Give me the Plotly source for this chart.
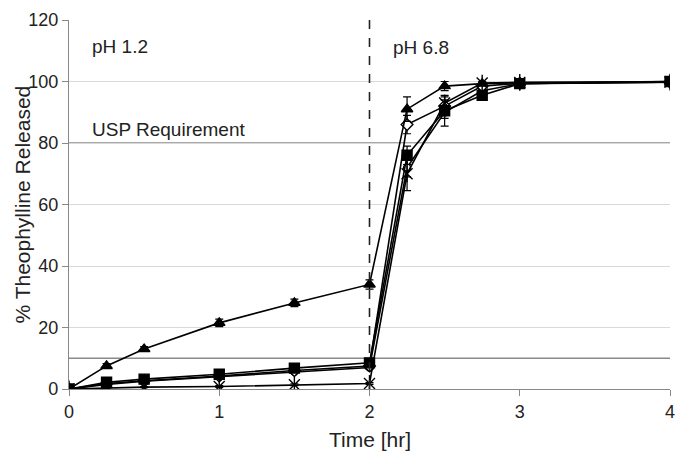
import plotly.graph_objects as go

time_hr = [0, 0.25, 0.5, 1, 1.5, 2, 2.25, 2.5, 2.75, 3, 4]

tri_vals = [0, 7.5, 13, 21.5, 28, 34, 91, 98.5, 99.3, 99.6, 100]
tri_err = [0, 0.8, 0.8, 1.2, 1.2, 1.5, 4, 1.5, 0.5, 0.5, 0.5]

dia_vals = [0, 1.8, 2.7, 4.2, 6, 7.5, 86, 92, 98.5, 99.4, 99.8]
dia_err = [0, 0.3, 0.3, 0.5, 0.8, 0.8, 3, 2, 1, 0.5, 0.5]

sq_vals = [0, 2.2, 3.2, 4.8, 6.8, 8.5, 76, 90.5, 95.5, 99.3, 100]
sq_err = [0, 0.5, 0.5, 0.5, 0.6, 0.6, 3, 5, 1, 0.5, 0.5]

circ_vals = [0, 1.5, 2.5, 4, 5.6, 7, 72, 90, 97, 99.3, 99.8]
circ_err = [0, 0.3, 0.3, 0.4, 0.5, 0.6, 3, 2, 1, 0.5, 0.5]

star_vals = [0, 0.4, 0.6, 0.8, 1.4, 1.8, 70, 93, 99.5, 99.7, 99.8]
star_err = [0, 0.2, 0.2, 0.3, 0.3, 0.3, 5.5, 2, 0.5, 0.5, 0.5]

y_ticks = [0, 20, 40, 60, 80, 100, 120]
x_ticks = [0, 1, 2, 3, 4]

fig = go.Figure()

def add_series(vals, err, symbol, fill, size):
    fig.add_trace(go.Scatter(
        x=time_hr, y=vals, mode="lines+markers",
        line=dict(color="black", width=1.6),
        marker=dict(symbol=symbol, size=size, color=fill,
                    line=dict(color="black", width=1.4)),
        error_y=dict(type="data", array=err, visible=True,
                     color="black", thickness=1.2, width=4),
        showlegend=False,
    ))

add_series(circ_vals, circ_err, "circle", "white", 7)
add_series(dia_vals, dia_err, "diamond", "white", 9)
add_series(star_vals, star_err, "x-thin-open", "black", 11)
fig.add_trace(go.Scatter(x=time_hr, y=star_vals, mode="markers",
                         marker=dict(symbol="line-ns-open", size=12, color="black",
                                     line=dict(color="black", width=1.4)),
                         showlegend=False))
add_series(sq_vals, sq_err, "square", "black", 10)
add_series(tri_vals, tri_err, "triangle-up", "black", 10)

# USP requirement lines and pH change
fig.add_shape(type="line", xref="paper", x0=0, x1=1, yref="y", y0=80, y1=80,
              line=dict(color="#8a8a8a", width=1.4), layer="below")
fig.add_shape(type="line", xref="paper", x0=0, x1=1, yref="y", y0=10, y1=10,
              line=dict(color="#8a8a8a", width=1.4), layer="below")
fig.add_shape(type="line", x0=2, x1=2, y0=0, y1=120,
              line=dict(color="#222222", width=1.6, dash="dash"))

font_txt = dict(family="Liberation Sans, Arial, sans-serif", size=19, color="#222222")
fig.add_annotation(x=0.14, y=111.5, text="pH 1.2", showarrow=False, xanchor="left", font=font_txt)
fig.add_annotation(x=2.14, y=111, text="pH 6.8", showarrow=False, xanchor="left", font=font_txt)
fig.add_annotation(x=0.14, y=84.5, text="USP Requirement", showarrow=False, xanchor="left", font=font_txt)
fig.add_annotation(x=4.01, y=14.3, text="USP Requirement", showarrow=False, xanchor="right", font=font_txt)

title_font = dict(family="Liberation Sans, Arial, sans-serif", size=21, color="#222222")
# axis titles placed as text
fig.add_annotation(xref="paper", yref="paper", x=0, y=0.5, xanchor="center", yanchor="middle",
                   xshift=-47, textangle=-90, showarrow=False,
                   text="% Theophylline Released", font=title_font)
fig.add_annotation(xref="paper", yref="paper", x=0.5, y=0, xanchor="center", yanchor="middle",
                   yshift=-50, showarrow=False, text="Time [hr]", font=title_font, borderpad=0)

fig.update_layout(
    width=676, height=453,
    margin=dict(l=69, r=6, t=20, b=64),
    paper_bgcolor="white", plot_bgcolor="white",
    font=dict(family="Liberation Sans, Arial, sans-serif", size=18, color="#222222"),
    xaxis=dict(range=[0, 4], tickvals=x_ticks, ticks="outside", ticklen=6,
               tickcolor="#888888", showline=True, linecolor="#888888", linewidth=1.3,
               showgrid=False, zeroline=False, ticklabeloverflow="allow", automargin=False),
    yaxis=dict(range=[0, 120], tickvals=y_ticks, ticks="outside", ticklen=6,
               tickcolor="#888888", showline=True, linecolor="#888888", linewidth=1.3,
               showgrid=True, gridcolor="#d9d9d9", gridwidth=1, zeroline=False,
               automargin=False),
)

fig.write_html("out.html")
